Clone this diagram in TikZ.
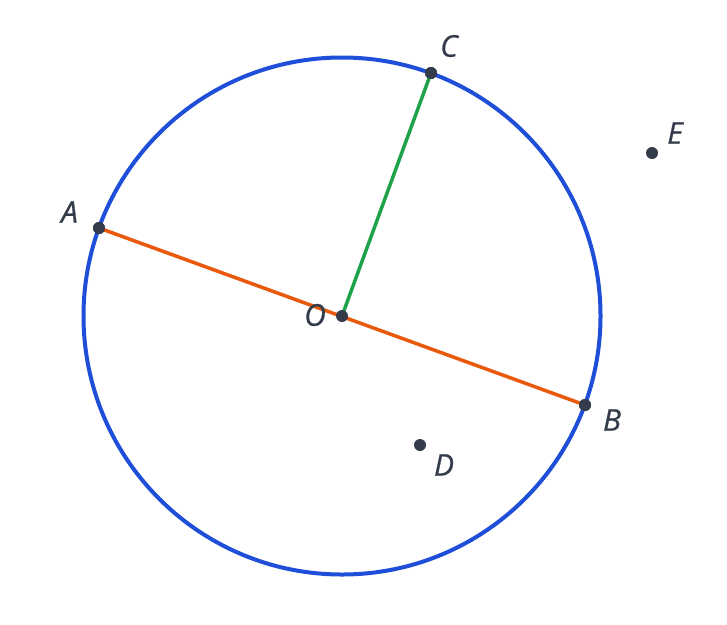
\documentclass[tikz,border=0pt]{standalone}
\usepackage{fontspec}
\setmainfont{Open Sans}
\newfontfamily\labfont[FakeBold=0.7]{Open Sans}
\definecolor{ink}{HTML}{343C4B}
\definecolor{cblue}{HTML}{1F4FD8}
\definecolor{corange}{HTML}{E8590C}
\definecolor{cgreen}{HTML}{1FA34A}
\begin{document}
\begin{tikzpicture}[x=1pt,y=-1pt,
  pt/.style={circle,fill=ink,inner sep=0pt,minimum size=12pt},
  lab/.style={text=ink,font=\labfont\fontsize{30}{33}\selectfont\itshape,inner sep=0pt}]
\useasboundingbox (0,0) rectangle (727,624);
\fill[white] (0,0) rectangle (727,624);
\coordinate (O) at (342,316);
\draw[cblue,line width=4pt] (O) circle (258.5);
\node[pt] (A) at (99,228) {};
\node[pt] (B) at (585,405) {};
\node[pt] (C) at (431,73) {};
\node[pt] (D) at (420,445) {};
\node[pt] (E) at (652,153) {};
\draw[corange,line width=3.5pt] (A.center) -- (B.center);
\draw[cgreen,line width=3.5pt] (O) -- (C.center);
\node[pt] (Od) at (O) {};
\node[pt] at (A) {};
\node[pt] at (B) {};
\node[pt] at (C) {};
\node[lab] (lA) at (69.5,212) {A};
\node[lab] (lB) at (612,420) {B};
\node[lab] (lC) at (449,46) {C};
\node[lab] (lD) at (444,465) {D};
\node[lab] (lE) at (675,133) {E};
\node[lab] (lO) at (315,315) {O};
\end{tikzpicture}
\end{document}
